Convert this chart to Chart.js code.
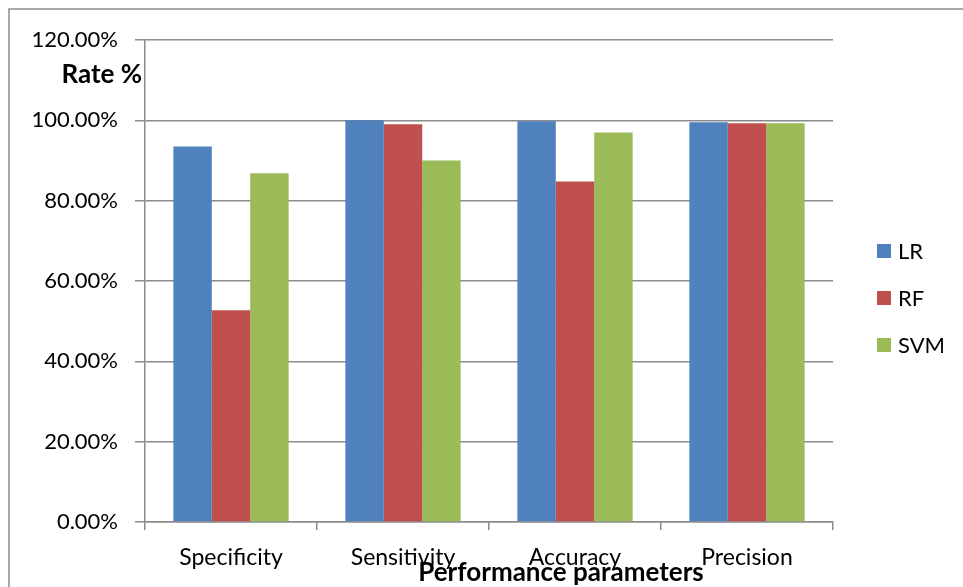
<!DOCTYPE html>
<html lang="en">
<head>
  <meta charset="UTF-8">
  <title>Performance parameters</title>
  <script src="https://cdn.jsdelivr.net/npm/chart.js@4.4.3/dist/chart.umd.min.js"></script>
  <style>
    html, body { margin: 0; padding: 0; background: #fff; overflow: hidden; }
    canvas { display: block; }
  </style>
</head>
<body>
  <canvas id="perfChart" width="963" height="587"></canvas>
  <script>
    const categories = ['Specificity', 'Sensitivity', 'Accuracy', 'Precision'];
    const lrValues = [93.5, 100.0, 99.8, 99.5];
    const rfValues = [52.7, 99.0, 84.8, 99.3];
    const svmValues = [86.8, 90.0, 97.0, 99.3];
    const seriesNames = ['LR', 'RF', 'SVM'];
    const seriesColors = ['#4F81BD', '#C0504D', '#9BBB59'];

    const FONT = 'Lato, "Open Sans", sans-serif';
    const gridColor = '#8c8c8c';

    // titles, legend and outer frame drawn by hand
    const extras = {
      id: 'extras',
      afterDraw(chart) {
        const ctx = chart.ctx;
        ctx.save();
        ctx.strokeStyle = '#8c8c8c';
        ctx.lineWidth = 1.5;
        ctx.strokeRect(9, 9, 1000, 1000);

        ctx.fillStyle = '#000';
        ctx.font = 'bold 26px ' + FONT;
        ctx.textBaseline = 'middle';
        ctx.textAlign = 'right';
        ctx.fillText('Rate %', 142, 75);
        ctx.textAlign = 'center';
        ctx.fillText('Performance parameters', 561, 573);

        ctx.font = '22px ' + FONT;
        ctx.textAlign = 'left';
        chart.data.datasets.forEach((ds, i) => {
          const y = 251 + i * 47;
          ctx.fillStyle = ds.backgroundColor;
          ctx.fillRect(877, y - 7, 14, 14);
          ctx.fillStyle = '#000';
          ctx.fillText(ds.label, 898, y + 1);
        });
        ctx.restore();
      }
    };

    new Chart(document.getElementById('perfChart'), {
      type: 'bar',
      data: {
        labels: categories,
        datasets: [lrValues, rfValues, svmValues].map((vals, i) => ({
          label: seriesNames[i],
          data: vals,
          backgroundColor: seriesColors[i],
          borderWidth: 0,
          barPercentage: 1.0,
          categoryPercentage: 0.67
        }))
      },
      options: {
        responsive: false,
        animation: false,
        devicePixelRatio: 1,
        layout: { padding: { top: 40, right: 130, left: 0, bottom: 0 } },
        plugins: {
          legend: { display: false },
          tooltip: { enabled: false }
        },
        scales: {
          x: {
            afterFit(scale) { scale.height = 65; },
            grid: {
              offset: true,
              drawOnChartArea: false,
              color: gridColor,
              lineWidth: 1.5,
              tickLength: 8
            },
            border: { color: gridColor, width: 1.5 },
            ticks: { color: '#000', font: { family: FONT, size: 23 }, padding: 14, maxRotation: 0 }
          },
          y: {
            min: 0,
            max: 120,
            afterFit(scale) { scale.width = 145; },
            grid: { color: gridColor, lineWidth: 1.5, tickLength: 10 },
            border: { color: gridColor, width: 1.5 },
            ticks: {
              stepSize: 20,
              color: '#000',
              padding: 17,
              font: { family: FONT, size: 22 },
              callback: v => v.toFixed(2) + '%'
            }
          }
        }
      },
      plugins: [extras]
    });
  </script>
</body>
</html>
